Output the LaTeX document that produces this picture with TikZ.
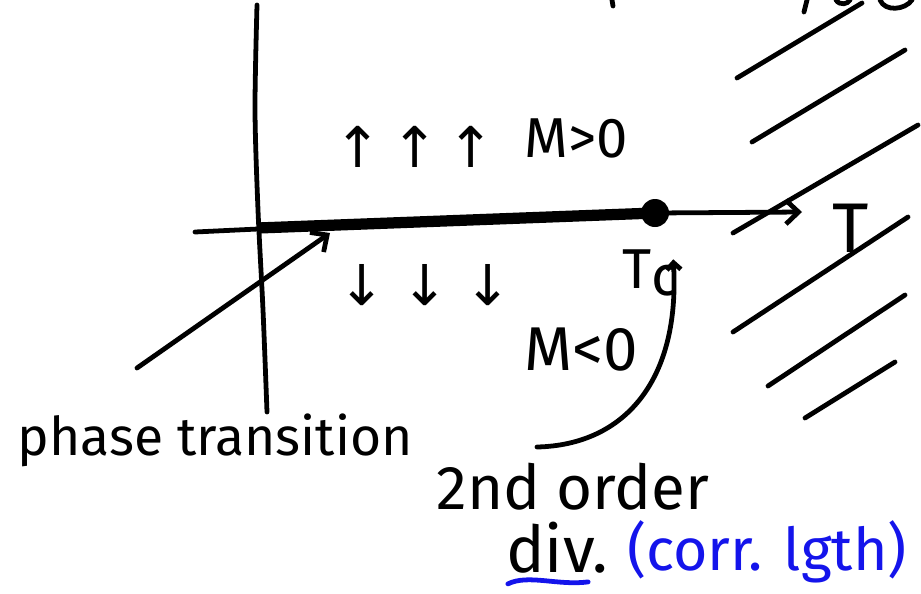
\documentclass[tikz,border=0pt]{standalone}
\usepackage{fontspec}
\setmainfont{Fira Sans}
\newfontfamily\arrowfont{DejaVu Sans}
\usetikzlibrary{arrows.meta,positioning,calc}
\definecolor{penblue}{RGB}{20,20,235}

\begin{document}
\begin{tikzpicture}[x=0.025cm,y=-0.025cm,
  pen/.style={line width=3.4pt,line cap=round,line join=round},
  ink/.style={inner sep=0pt,font=\fontsize{40}{40}\selectfont},
  barb/.style={-{Straight Barb[length=9pt,width=17pt]}}]
  \useasboundingbox (0,0) rectangle (921,593);

  % axes
  \draw[pen] plot[smooth] coordinates {(257,5) (255,110) (258,210) (263,310) (267,412)};
  \node[circle,fill,inner sep=0pt,minimum size=0.7cm] (crit) at (655,213) {};
  \coordinate (left) at (195,232);
  \coordinate (tip) at (802,212);
  \draw[pen] (left) -- (258,229);
  \draw[line width=8pt] (258,228) -- (crit.center);
  \draw[pen,barb] (crit) -- (tip);

  % labels
  \node[ink,font=\arrowfont\fontsize{40}{40}\selectfont] (up) at (415,147) {↑\,↑\,↑};
  \node[ink] (Mpos) at (576,138) {M>0};
  \node[ink,font=\arrowfont\fontsize{40}{40}\selectfont] (down) at (425,285) {↓\;↓\;↓};
  \node[ink] (Tc) at (650,273) {T\raisebox{-0.25ex}{c}};
  \node[ink,font=\fontsize{50}{50}\selectfont] (T) at (851,228) {T};
  \node[ink,font=\fontsize{44}{44}\selectfont] (Mneg) at (581,350) {M<0};
  \node[ink,font=\fontsize{38}{38}\selectfont] (phase) at (215,440) {phase transition};
  \node[ink,font=\fontsize{44}{44}\selectfont] (order) at (573,487) {2nd order};
  \node[ink,font=\fontsize{46}{46}\selectfont] (div) at (557,548) {div.};
  \node[ink,font=\fontsize{42}{42}\selectfont,text=penblue] (corr) at (767,552) {(corr. lgth)};
  \draw[pen,penblue] ($(div.south west)+(2,10)$) .. controls +(20,-10) and +(-30,4) .. ($(div.south east)+(-20,8)$);

  % connectors
  \coordinate (ptail) at (137,368);
  \coordinate (phead) at (330,233);
  \draw[pen,barb] (ptail) -- (phead);
  \coordinate (otail) at (537,447);
  \draw[pen,-{Straight Barb[length=5pt,width=10pt]}] (otail) .. controls (625,445) and (680,380) .. ($(Tc.north east)+(-5,10)$);

  % hatching
  \foreach \a/\b/\c/\d in {737/78/862/3, 752/142/905/50, 733/233/918/125,
    733/332/908/217, 768/386/905/295, 805/418/895/362}
    \draw[pen] (\a,\b) -- (\c,\d);

  % cut off strokes at the top
  \draw[pen] (612,0) -- (613,6);
  \draw[pen] (807,0) -- (804,12);
  \draw[pen] (836,0) .. controls (840,6) and (848,4) .. (850,0);
  \draw[pen] (880,0) .. controls (885,12) and (905,10) .. (912,0);
\end{tikzpicture}
\end{document}
